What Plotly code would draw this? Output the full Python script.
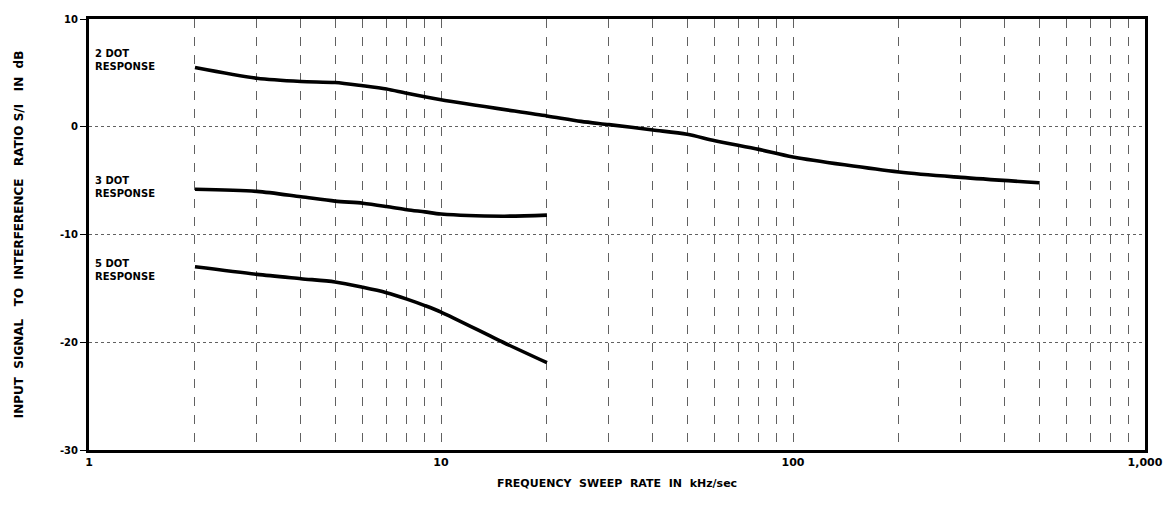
import plotly.graph_objects as go

# Frequency sweep rate (kHz/sec) and S/I ratio (dB)
x_2dot = [2, 3, 4, 5, 6, 7, 8, 10, 20, 25, 30, 40, 50, 60, 80, 100, 200, 300, 500]
y_2dot = [5.5, 4.5, 4.2, 4.1, 3.8, 3.5, 3.1, 2.5, 1.0, 0.5, 0.2, -0.3, -0.7, -1.3, -2.1, -2.8, -4.2, -4.7, -5.2]

x_3dot = [2, 3, 4, 5, 6, 7, 8, 9, 10, 15, 20]
y_3dot = [-5.8, -6.0, -6.5, -6.9, -7.1, -7.4, -7.7, -7.9, -8.1, -8.3, -8.2]

x_5dot = [2, 3, 4, 5, 6, 7, 8, 9, 10, 15, 20]
y_5dot = [-13.0, -13.7, -14.1, -14.4, -14.9, -15.4, -16.0, -16.6, -17.2, -20.0, -21.9]

labels = ["2 DOT<br>RESPONSE", "3 DOT<br>RESPONSE", "5 DOT<br>RESPONSE"]
label_y = [6.2, -5.6, -13.3]

x_ticks = [m * 10 ** d for d in range(3) for m in range(1, 10)] + [1000]
x_ticktext = ["1" if v == 1 else "10" if v == 10 else "100" if v == 100 else "1,000" if v == 1000 else "" for v in x_ticks]
y_ticks = [10, 0, -10, -20, -30]
y_ticktext = ["10", "0", "-10", "-20", "-30"]

FONT = "DejaVu Sans"

fig = go.Figure()
for xs, ys in [(x_2dot, y_2dot), (x_3dot, y_3dot), (x_5dot, y_5dot)]:
    fig.add_trace(go.Scatter(x=xs, y=ys, mode="lines",
                             line=dict(color="black", width=3.6, shape="spline", smoothing=0.8),
                             showlegend=False))

for txt, yy in zip(labels, label_y):
    fig.add_annotation(x=0.012, y=yy, xref="x", yref="y", text=txt, showarrow=False,
                       xanchor="left", yanchor="middle", align="left",
                       font=dict(family=FONT, size=10, color="black", weight="bold"))

fig.update_layout(
    width=1167, height=506,
    margin=dict(l=89, r=22, t=19, b=56),
    paper_bgcolor="white", plot_bgcolor="white",
    xaxis=dict(type="log", range=[0, 3], tickvals=x_ticks, ticktext=x_ticktext,
               showgrid=True, gridcolor="rgba(30,30,30,0.7)", gridwidth=1, griddash="dash",
               showline=True, linecolor="black", linewidth=3, mirror=True,
               ticks="", zeroline=False, automargin=False,
               title=dict(text="FREQUENCY  SWEEP  RATE  IN  kHz/sec",
                          font=dict(family=FONT, size=11, color="black", weight="bold"), standoff=12),
               tickfont=dict(family=FONT, size=11, color="black", weight="bold")),
    yaxis=dict(range=[-30, 10], tickvals=y_ticks, ticktext=y_ticktext,
               showgrid=True, gridcolor="rgba(30,30,30,0.7)", gridwidth=1, griddash="dot",
               showline=True, linecolor="black", linewidth=3, mirror=True,
               ticks="outside", ticklen=6, tickcolor="black", zeroline=False, automargin=False,
               title=dict(text="INPUT  SIGNAL   TO  INTERFERENCE   RATIO S/I   IN  dB",
                          font=dict(family=FONT, size=12, color="black", weight="bold"), standoff=34),
               tickfont=dict(family=FONT, size=10, color="black", weight="bold")),
)

fig.write_html("out.html", config={"displayModeBar": False},
               post_script="document.body.style.margin='0';")
